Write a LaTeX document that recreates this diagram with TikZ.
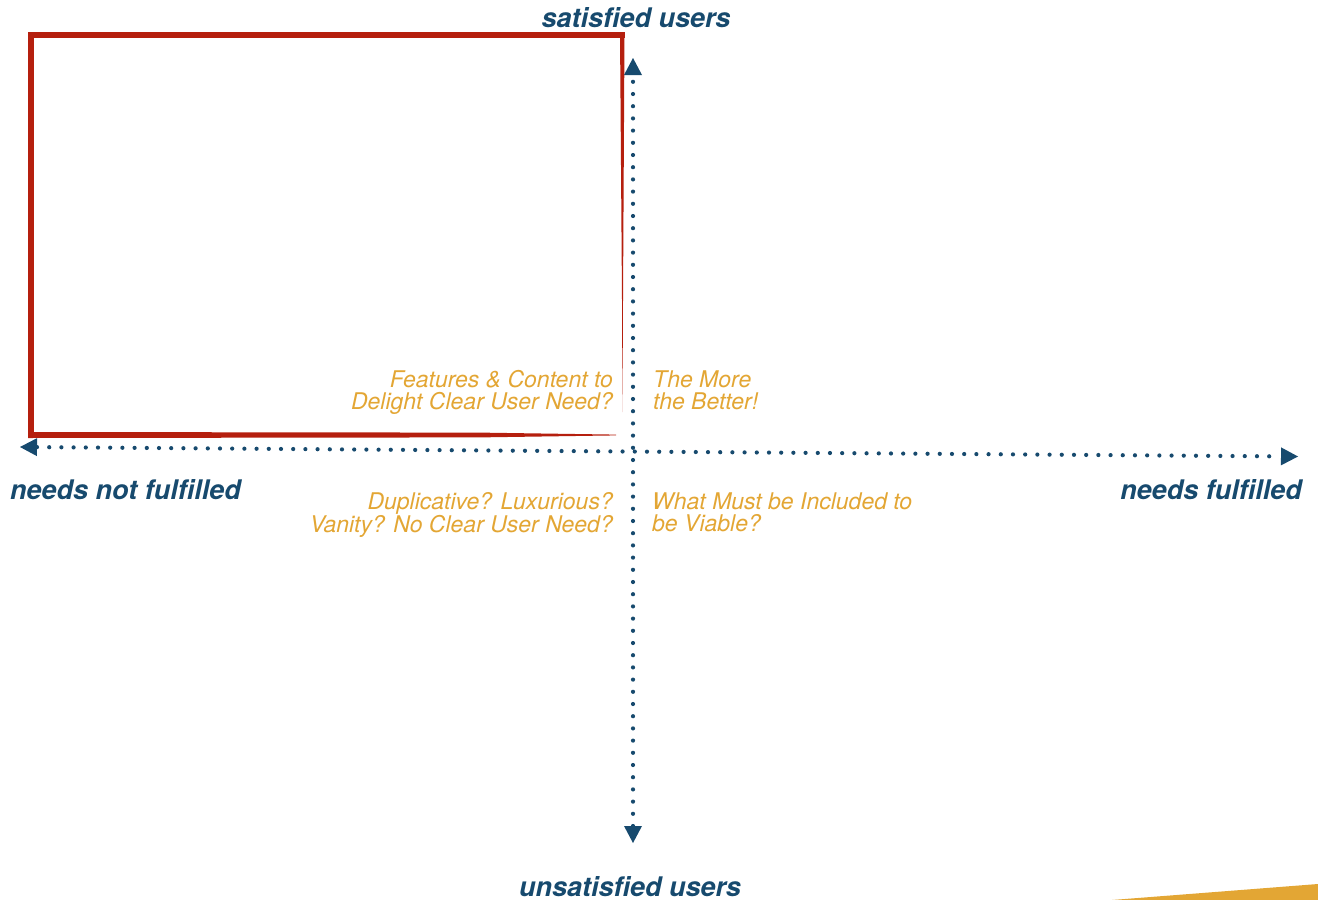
\documentclass[tikz,border=0pt]{standalone}
\usepackage{fontspec}
\setmainfont{TeX Gyre Heros}
\usetikzlibrary{arrows.meta}
\definecolor{axisblue}{HTML}{174A6E}
\definecolor{boxred}{HTML}{B51F0E}
\definecolor{noteorange}{HTML}{E3A634}
\begin{document}
\begin{tikzpicture}[x=1pt,y=-1pt]
	\tikzstyle{every node}+=[inner sep=0pt]
	\tikzstyle{axis}=[axisblue, line width=4.2pt, line cap=round, dash pattern=on 0pt off 12.2pt, {Triangle[length=17pt,width=18pt,line width=0pt]}-{Triangle[length=17pt,width=18pt,line width=0pt]}]
	\tikzstyle{pole}=[axisblue, font=\fontsize{27}{27}\selectfont\bfseries\itshape]
	\tikzstyle{note}=[noteorange, font=\fontsize{23}{22}\selectfont\itshape]
	\useasboundingbox (0,0) rectangle (1318,900);
	\fill [boxred] (28,32) rectangle (34,437);
	\fill [boxred] (28,32) rectangle (624.5,38);
	\fill [boxred] (620,32) -- (624.5,32) -- (623,300) -- (622.4,412) -- (622,300) -- cycle;
	\fill [boxred] (28,432) -- (480,432.6) -- (616,434.6) -- (616,435.4) -- (480,437.4) -- (28,438) -- cycle;
	\fill [noteorange] (1112,900) -- (1318,884) -- (1318,900) -- cycle;
	\coordinate (top) at (633,58);
	\coordinate (bottom) at (633,843);
	\coordinate (left) at (20,447);
	\coordinate (right) at (1298,456.5);
	\draw [axis] (bottom) -- (top);
	\draw [axis] (left) -- (right);
	\node [pole] (satisfied) at (636,18) {satisfied users};
	\node [pole] (unsatisfied) at (630,887) {unsatisfied users};
	\node [pole, anchor=west] (notfulfilled) at (10,489.5) {needs not fulfilled};
	\node [pole, anchor=east] (fulfilled) at (1302,489.5) {needs fulfilled};
	\node [note, anchor=east, align=right] (delight) at (613,392.6) {Features \& Content to\\Delight Clear User Need?};
	\node [note, anchor=west, align=left] (better) at (653,390.5) {The More\\the Better!};
	\node [note, anchor=east, align=right] (vanity) at (613,514.6) {Duplicative? Luxurious?\\Vanity? No Clear User Need?};
	\node [note, anchor=west, align=left] (viable) at (652,512.5) {What Must be Included to\\be Viable?};
\end{tikzpicture}
\end{document}
